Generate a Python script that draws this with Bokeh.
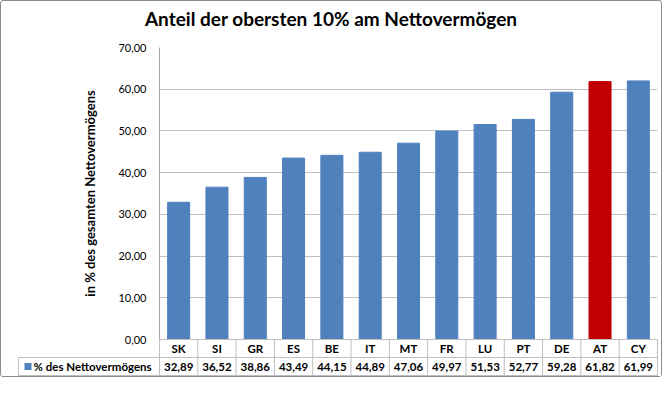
from bokeh.plotting import figure
from bokeh.models import Range1d, FactorRange, FixedTicker, ColumnDataSource, Div
from bokeh.layouts import column
from bokeh.embed import file_html
from bokeh.resources import INLINE
from bokeh.core.properties import value

# ---- data ----
title_text = "Anteil der obersten 10% am Nettovermögen"
y_axis_title = "in % des gesamten Nettovermögens"
series_name = "% des Nettovermögens"
countries = ["SK", "SI", "GR", "ES", "BE", "IT", "MT", "FR", "LU", "PT", "DE", "AT", "CY"]
shares = [32.89, 36.52, 38.86, 43.49, 44.15, 44.89, 47.06, 49.97, 51.53, 52.77, 59.28, 61.82, 61.99]
highlight = "AT"
y_ticks = [0, 10, 20, 30, 40, 50, 60, 70]


def de(v):
    return f"{v:.2f}".replace(".", ",")


# ---- style / layout ----
BLUE = "#4F81BD"
RED = "#C00000"
GRID = "#BFBFBF"
AXIS = "#A6A6A6"
FONT = "Lato"
W = 660            # inner width (plus 1px border each side)
TITLE_H = 28
TOP = 18
FRAME_L = 158
FRAME_R = 656
FRAME_H = 292
TABLE_H = 37
XU = (FRAME_R - FRAME_L) / len(countries)   # pixels per category
YU = FRAME_H / 70.0                          # pixels per y unit

# ---- title ----
title = Div(text=title_text, width=W, height=TITLE_H, margin=0,
            styles={"font-family": FONT, "font-size": "19px", "font-weight": "bold",
                    "text-align": "center", "line-height": "36px", "color": "#000"})

# ---- chart ----
src = ColumnDataSource(dict(
    x=countries, top=shares,
    color=[RED if c == highlight else BLUE for c in countries]))

p = figure(width=W, height=TOP + FRAME_H + TABLE_H, x_range=FactorRange(*countries),
           y_range=Range1d(0, 70), margin=0,
           x_axis_location=None, output_backend="svg", toolbar_location=None,
           min_border_left=FRAME_L, min_border_right=W - FRAME_R,
           min_border_top=TOP, min_border_bottom=TABLE_H)
p.outline_line_color = None
p.vbar(x="x", top="top", width=0.575, source=src, fill_color="color", line_color="color")
p.xgrid.visible = False
p.ygrid.ticker = FixedTicker(ticks=y_ticks)
p.ygrid.grid_line_color = GRID
ax = p.yaxis[0]
ax.ticker = FixedTicker(ticks=y_ticks)
ax.major_label_overrides = {t: de(t) for t in y_ticks}
ax.major_label_text_font = FONT
ax.major_label_text_font_size = "11px"
ax.major_label_text_color = "#000000"
ax.major_label_standoff = 13
ax.major_tick_out = 0
ax.major_tick_in = 0
ax.minor_tick_out = 0
ax.minor_tick_in = 0
ax.axis_line_color = AXIS
ax.axis_label = y_axis_title
ax.axis_label_text_font = FONT
ax.axis_label_text_font_style = "bold"
ax.axis_label_text_font_size = "13px"
ax.axis_label_text_color = "#000000"
ax.axis_label_standoff = 17

# ---- data table (drawn below the frame, unclipped) ----
n = len(countries)
legend_w = 141 / XU
rh = 18 / YU          # row height in y units
r1 = -rh
r2 = -2 * rh

x0 = [0, -legend_w, -legend_w, -legend_w] + [float(i) for i in range(n + 1)]
x1 = [n, n, n, -legend_w] + [float(i) for i in range(n + 1)]
y0 = [0, r1, r2, r2] + [r2] * (n + 1)
y1 = [0, r1, r2, r1] + [0] * (n + 1)
p.segment(x0=x0, y0=y0, x1=x1, y1=y1, line_color=GRID, line_width=1, level="overlay")

centers = [i + 0.5 for i in range(n)]
p.text(x=centers, y=[r1 / 2] * n, text=countries, text_font=value(FONT),
       text_font_style="bold", text_font_size="11.5px", text_align="center",
       text_baseline="middle", text_color="#000", level="overlay")
p.text(x=centers, y=[(r1 + r2) / 2] * n, text=[de(v) for v in shares],
       text_font=value(FONT), text_font_style="bold", text_font_size="11.5px",
       text_align="center", text_baseline="middle", text_color="#000", level="overlay")
# legend key: a short thick segment (7x7 px square)
kx = -legend_w + 6 / XU
p.segment(x0=[kx], y0=[(r1 + r2) / 2], x1=[kx + 7 / XU], y1=[(r1 + r2) / 2],
          line_color=BLUE, line_width=7, line_cap="butt", level="overlay")
p.text(x=[-legend_w + 15 / XU], y=[(r1 + r2) / 2], text=[series_name], text_font=value(FONT),
       text_font_style="bold", text_font_size="11.5px", text_align="left",
       text_baseline="middle", text_color="#000", level="overlay")

layout = column(title, p, spacing=0,
                styles={"background-color": "#ffffff", "border": "1px solid #8c8c8c",
                        "border-radius": "3px"})

open("out.html", "w").write(file_html(layout, INLINE))
